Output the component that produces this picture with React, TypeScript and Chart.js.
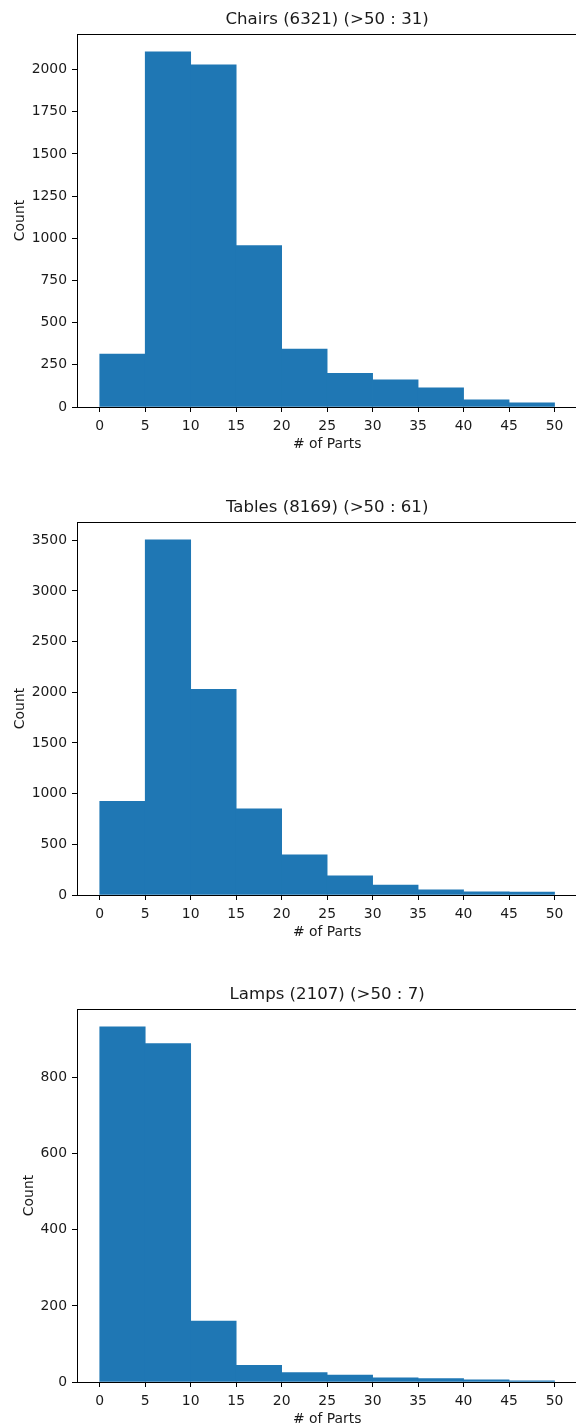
import React, { useEffect, useRef } from "react";
import { Chart, registerables } from "chart.js";

Chart.register(...registerables);

// ---- Data ----
const binEdges = [0, 5, 10, 15, 20, 25, 30, 35, 40, 45, 50];
const xTickValues = [0, 5, 10, 15, 20, 25, 30, 35, 40, 45, 50];

const chairsTitle = "Chairs (6321) (>50 : 31)";
const chairsCounts = [313, 2106, 2029, 957, 343, 199, 161, 114, 43, 25];
const chairsYTicks = [0, 250, 500, 750, 1000, 1250, 1500, 1750, 2000];

const tablesTitle = "Tables (8169) (>50 : 61)";
const tablesCounts = [925, 3505, 2030, 850, 397, 188, 98, 50, 31, 30];
const tablesYTicks = [0, 500, 1000, 1500, 2000, 2500, 3000, 3500];

const lampsTitle = "Lamps (2107) (>50 : 7)";
const lampsCounts = [934, 890, 160, 44, 25, 18, 11, 9, 6, 3];
const lampsYTicks = [0, 200, 400, 600, 800];

const xLabel = "# of Parts";
const yLabel = "Count";

// ---- Style ----
const FONT = '"DejaVu Sans", sans-serif';
const TEXT = "#1a1a1a";
const BAR = "#1f77b4";
const TICK_SIZE = 13.9;
const TITLE_SIZE = 16.6;
const CANVAS_W = 640;
const AXIS_LEFT = 77;
const AXIS_RIGHT = 577.3;
const X_MIN = -2.5;
const X_MAX = 52.5;

const mplText = {
  id: "mplText",
  afterDraw(chart: any, _args: any, opts: any) {
    const { ctx, chartArea, scales } = chart;
    ctx.save();
    // top spine
    ctx.strokeStyle = "#000";
    ctx.lineWidth = 1;
    ctx.beginPath();
    ctx.moveTo(chartArea.left, chartArea.top + 0.5);
    ctx.lineTo(chartArea.right, chartArea.top + 0.5);
    ctx.stroke();

    ctx.fillStyle = TEXT;
    // title
    const mid = (binEdges[0] + binEdges[binEdges.length - 1]) / 2;
    const cx = scales.x.getPixelForValue(mid);
    ctx.font = `${TITLE_SIZE}px ${FONT}`;
    ctx.textAlign = "center";
    ctx.textBaseline = "alphabetic";
    ctx.fillText(opts.title, cx, chartArea.top - 10);

    // x label
    ctx.font = `${TICK_SIZE}px ${FONT}`;
    ctx.textBaseline = "middle";
    ctx.fillText(opts.xlabel, cx, chartArea.bottom + 37);

    // y label
    let maxW = 0;
    (opts.yticks as number[]).forEach((v) => {
      maxW = Math.max(maxW, ctx.measureText(String(v)).width);
    });
    const labelsLeft = chartArea.left - 10 - maxW;
    ctx.translate(labelsLeft - 7.5, (chartArea.top + chartArea.bottom) / 2);
    ctx.rotate(-Math.PI / 2);
    ctx.textAlign = "center";
    ctx.textBaseline = "alphabetic";
    ctx.fillText(opts.ylabel, 0, 0);
    ctx.restore();
  },
};

type PanelProps = {
  title: string;
  counts: number[];
  yTicks: number[];
  canvasTop: number;
  canvasBottom: number;
  axTop: number;
  axBottom: number;
};

function Panel({ title, counts, yTicks, canvasTop, canvasBottom, axTop, axBottom }: PanelProps) {
  const ref = useRef<HTMLCanvasElement | null>(null);
  const h = canvasBottom - canvasTop;
  useEffect(() => {
    if (!ref.current) return;
    const data = counts.map((c, i) => ({ x: (binEdges[i] + binEdges[i + 1]) / 2, y: c }));
    const yMax = Math.max(...counts) * 1.05;
    const xScaleHeight = canvasBottom - axBottom;
    const chart = new Chart(ref.current, {
      type: "bar",
      data: {
        datasets: [
          {
            data,
            backgroundColor: BAR,
            borderWidth: 0,
            barPercentage: 1,
            categoryPercentage: 1,
          } as any,
        ],
      },
      plugins: [mplText],
      options: {
        responsive: false,
        animation: false,
        devicePixelRatio: 1,
        layout: {
          autoPadding: false,
          padding: { top: axTop - canvasTop, left: 0, right: CANVAS_W - AXIS_RIGHT, bottom: 0 },
        },
        plugins: {
          legend: { display: false },
          tooltip: { enabled: false },
          title: { display: false },
          mplText: { title, xlabel: xLabel, ylabel: yLabel, yticks: yTicks },
        } as any,
        scales: {
          x: {
            type: "linear",
            min: X_MIN,
            max: X_MAX,
            offset: false,
            afterFit: (s: any) => {
              s.height = xScaleHeight;
            },
            afterBuildTicks: (s: any) => {
              s.ticks = xTickValues.map((v) => ({ value: v }));
            },
            grid: {
              offset: false,
              drawOnChartArea: false,
              drawTicks: true,
              tickLength: 5,
              color: "#000",
              lineWidth: 1,
            },
            border: { display: true, color: "#000", width: 1 },
            ticks: {
              color: TEXT,
              font: { family: FONT, size: TICK_SIZE },
              padding: 6,
              maxRotation: 0,
              autoSkip: false,
            },
          },
          y: {
            type: "linear",
            min: 0,
            max: yMax,
            afterFit: (s: any) => {
              s.width = AXIS_LEFT;
            },
            afterBuildTicks: (s: any) => {
              s.ticks = yTicks.map((v) => ({ value: v }));
            },
            grid: {
              drawOnChartArea: false,
              drawTicks: true,
              tickLength: 5,
              color: "#000",
              lineWidth: 1,
            },
            border: { display: true, color: "#000", width: 1 },
            ticks: {
              color: TEXT,
              font: { family: FONT, size: TICK_SIZE },
              padding: 5,
              autoSkip: false,
              callback: (v: any) => String(v),
            },
          },
        },
      },
    });
    return () => chart.destroy();
  }, []);
  return (
    <canvas
      ref={ref}
      width={CANVAS_W}
      height={h}
      style={{ position: "absolute", left: 0, top: canvasTop, width: CANVAS_W, height: h }}
    />
  );
}

export default function App() {
  return (
    <div
      style={{
        position: "absolute",
        left: 0,
        top: 0,
        width: 576,
        height: 1424,
        overflow: "hidden",
        background: "#fff",
      }}
    >
      <Panel title={chairsTitle} counts={chairsCounts} yTicks={chairsYTicks}
        canvasTop={0} canvasBottom={487} axTop={34} axBottom={407} />
      <Panel title={tablesTitle} counts={tablesCounts} yTicks={tablesYTicks}
        canvasTop={488} canvasBottom={974} axTop={522} axBottom={895} />
      <Panel title={lampsTitle} counts={lampsCounts} yTicks={lampsYTicks}
        canvasTop={975} canvasBottom={1424} axTop={1009} axBottom={1382} />
    </div>
  );
}
